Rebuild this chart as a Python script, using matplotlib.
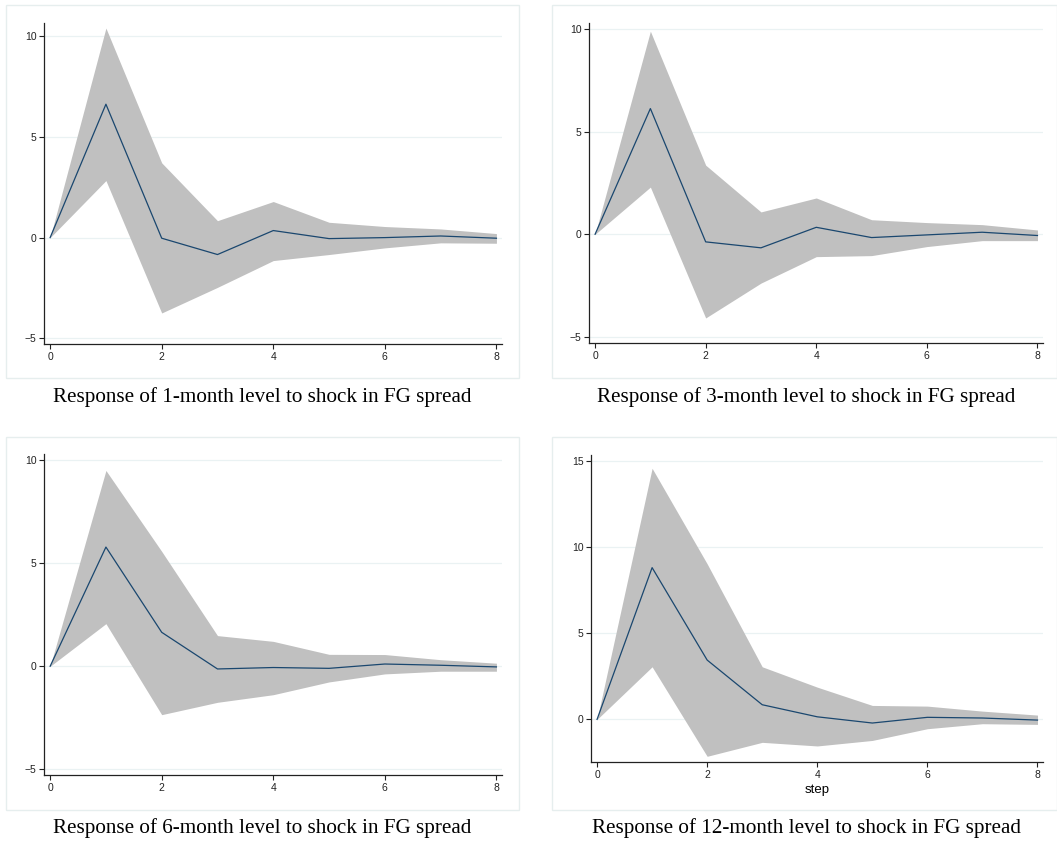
import matplotlib
matplotlib.use("Agg")
import matplotlib.pyplot as plt
from matplotlib.patches import Rectangle

steps = [0, 1, 2, 3, 4, 5, 6, 7, 8]

# 1-month
irf_1m = [0, 6.62, -0.03, -0.84, 0.35, -0.05, 0.0, 0.08, -0.03]
up_1m = [0, 10.4, 3.71, 0.84, 1.79, 0.76, 0.55, 0.43, 0.20]
lo_1m = [0, 2.83, -3.74, -2.47, -1.14, -0.84, -0.51, -0.26, -0.28]

# 3-month
irf_3m = [0, 6.13, -0.37, -0.66, 0.34, -0.16, -0.03, 0.10, -0.06]
up_3m = [0, 9.9, 3.37, 1.09, 1.77, 0.71, 0.57, 0.47, 0.21]
lo_3m = [0, 2.30, -4.08, -2.38, -1.09, -1.04, -0.60, -0.31, -0.31]

# 6-month
irf_6m = [0, 5.79, 1.65, -0.13, -0.06, -0.10, 0.11, 0.05, -0.03]
up_6m = [0, 9.51, 5.58, 1.49, 1.21, 0.58, 0.57, 0.32, 0.15]
lo_6m = [0, 2.07, -2.35, -1.75, -1.38, -0.76, -0.37, -0.24, -0.24]

# 12-month
irf_12m = [0, 8.80, 3.44, 0.85, 0.15, -0.21, 0.12, 0.08, -0.04]
up_12m = [0, 14.56, 9.02, 3.05, 1.87, 0.81, 0.77, 0.48, 0.25]
lo_12m = [0, 3.05, -2.14, -1.33, -1.54, -1.22, -0.54, -0.25, -0.29]

captions = [
    "Response of 1-month level to shock in FG spread",
    "Response of 3-month level to shock in FG spread",
    "Response of 6-month level to shock in FG spread",
    "Response of 12-month level to shock in FG spread",
]
yticks_small = [-5, 0, 5, 10]
yticks_big = [0, 5, 10, 15]
xticks = [0, 2, 4, 6, 8]

W, H = 1057, 844
fig = plt.figure(figsize=(W / 100, H / 100), dpi=100)


def px_rect(left, top, right, bottom):
    return [left / W, 1 - bottom / H, (right - left) / W, (bottom - top) / H]


# panel boxes (stata graph region outline)
boxes = [(6, 5, 519, 378), (552, 5, 1057, 378), (6, 437, 519, 810), (552, 437, 1057, 810)]
for l, t, r, b in boxes:
    fig.patches.append(Rectangle((l / W, 1 - b / H), (r - l) / W, (b - t) / H,
                                 transform=fig.transFigure, fill=False,
                                 edgecolor="#e6eeee", linewidth=1.0))

panels = [
    (px_rect(44, 23, 502, 344), irf_1m, up_1m, lo_1m, yticks_small, (-5.28, 10.65), False),
    (px_rect(589, 23, 1043, 343), irf_3m, up_3m, lo_3m, yticks_small, (-5.3, 10.3), False),
    (px_rect(44, 454, 502, 775), irf_6m, up_6m, lo_6m, yticks_small, (-5.28, 10.31), False),
    (px_rect(591, 455, 1043, 762), irf_12m, up_12m, lo_12m, yticks_big, (-2.47, 15.33), True),
]

for rect, irf, up, lo, yt, ylim, show_xlabel in panels:
    ax = fig.add_axes(rect)
    ax.fill_between(steps, lo, up, color="#c0c0c0", linewidth=0, zorder=2)
    ax.plot(steps, irf, color="#1a476f", linewidth=0.9, zorder=3)
    ax.set_xlim(-0.11, 8.1)
    ax.set_ylim(*ylim)
    ax.set_xticks(xticks)
    ax.set_yticks(yt)
    ax.grid(axis="y", color="#eaf2f3", linewidth=0.9, zorder=0)
    for s in ["top", "right"]:
        ax.spines[s].set_visible(False)
    for s in ["left", "bottom"]:
        ax.spines[s].set_color("#222222")
        ax.spines[s].set_linewidth(0.9)
    ax.tick_params(length=3.5, width=0.8, color="#222222", labelsize=7.5, pad=2,
                   labelcolor="#222222")
    for lab in ax.get_xticklabels() + ax.get_yticklabels():
        lab.set_fontfamily("Liberation Sans")
    if show_xlabel:
        ax.set_xlabel("step", fontsize=9.5, family="Liberation Sans", labelpad=3)

cap_pos = [(262, 397), (806, 397), (262, 828), (806, 828)]
for (cx, cy), txt in zip(cap_pos, captions):
    fig.text(cx / W, 1 - cy / H, txt, ha="center", va="center",
             fontsize=15.2, family="Liberation Serif")

fig.savefig("out.png", dpi=100, facecolor="white")
